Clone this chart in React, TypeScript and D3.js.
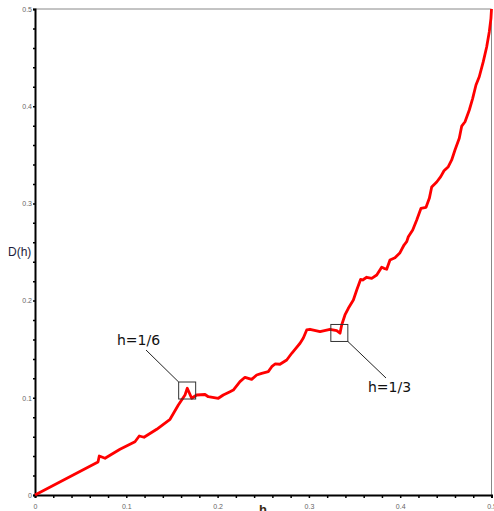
import { useEffect, useRef } from 'react';
import * as d3 from 'd3';

// curve D(h)
const hValues = [
    0, 0.069, 0.0704, 0.0767, 0.0931, 0.1095, 0.1142, 0.1194, 0.1333, 0.1479,
    0.157, 0.1643, 0.1668, 0.1716, 0.1771, 0.1862, 0.1898, 0.2008, 0.2062, 0.2136,
    0.2172, 0.2245, 0.23, 0.2373, 0.2428, 0.2483, 0.2555, 0.2593, 0.2629, 0.2683,
    0.2757, 0.2812, 0.2848, 0.2903, 0.2939, 0.2976, 0.3012, 0.3122, 0.3231, 0.3305,
    0.3341, 0.3359, 0.3395, 0.3432, 0.3487, 0.3524, 0.3567, 0.3589, 0.3633, 0.3688,
    0.3743, 0.3797, 0.3823, 0.3852, 0.3888, 0.3943, 0.3998, 0.4042, 0.4071, 0.4089,
    0.4137, 0.4181, 0.4228, 0.4283, 0.4319, 0.4345, 0.44, 0.4444, 0.448, 0.4527,
    0.4564, 0.46, 0.4647, 0.4674, 0.471, 0.4757, 0.4794, 0.483, 0.4866, 0.491,
    0.4947, 0.4976, 0.4994, 0.5
];
const dValues = [
    0, 0.034, 0.0401, 0.0378, 0.047, 0.0548, 0.0607, 0.0594, 0.0676, 0.0779,
    0.0926, 0.1029, 0.1098, 0.0995, 0.1029, 0.1034, 0.1011, 0.0995, 0.1029, 0.1063,
    0.108, 0.1166, 0.1211, 0.119, 0.1235, 0.1252, 0.1269, 0.132, 0.1348, 0.1345,
    0.1389, 0.1458, 0.1499, 0.1561, 0.1615, 0.1698, 0.1705, 0.168, 0.1705, 0.169,
    0.1664, 0.1749, 0.1852, 0.1921, 0.2006, 0.2109, 0.2219, 0.2212, 0.224, 0.2229,
    0.2263, 0.2343, 0.2332, 0.2322, 0.2418, 0.2441, 0.2493, 0.2572, 0.2606, 0.2657,
    0.2726, 0.2829, 0.295, 0.296, 0.3052, 0.3169, 0.322, 0.3275, 0.3336, 0.3378,
    0.3447, 0.3549, 0.367, 0.3796, 0.384, 0.3961, 0.4081, 0.4218, 0.4303, 0.4458,
    0.4609, 0.4767, 0.4904, 0.5
];

const majorTicks = [0, 0.1, 0.2, 0.3, 0.4, 0.5];
const minorTicks = [0.02, 0.04, 0.06, 0.08, 0.12, 0.14, 0.16, 0.18, 0.22, 0.24, 0.26, 0.28,
    0.32, 0.34, 0.36, 0.38, 0.42, 0.44, 0.46, 0.48];

const markLabels = ['h=1/6', 'h=1/3'];
const markH = [1 / 6, 1 / 3];
const markD = [0.1075, 0.1667];

export default function App() {
    const svgRef = useRef<SVGSVGElement>(null);
    const width = 494;
    const height = 511;

    useEffect(() => {
        if (!svgRef.current) return;
        const svg = d3.select(svgRef.current);
        svg.selectAll("*").remove();

        const x = d3.scaleLinear().domain([0, 0.5]).range([35, 491.5]);
        const y = d3.scaleLinear().domain([0, 0.5]).range([495, 9]);

        // frame: grey top / right
        svg.append("line")
            .attr("x1", x(0)).attr("x2", x(0.5))
            .attr("y1", y(0.5)).attr("y2", y(0.5))
            .attr("stroke", "#888").attr("stroke-width", 1);
        svg.append("line")
            .attr("x1", x(0.5)).attr("x2", x(0.5))
            .attr("y1", y(0)).attr("y2", y(0.5))
            .attr("stroke", "#888").attr("stroke-width", 1);

        const fmt = (d: d3.NumberValue) => (+d === 0 ? "0" : d3.format(".1f")(+d));

        // x axis
        const gx = svg.append("g").attr("transform", `translate(0,${y(0)})`);
        gx.call(d3.axisBottom(x).tickValues(majorTicks).tickFormat(fmt).tickSize(3).tickPadding(6));
        gx.append("g").call(d3.axisBottom(x).tickValues(minorTicks).tickFormat(() => "").tickSize(3))
            .select(".domain").remove();
        gx.selectAll(".domain").attr("stroke", "#000").attr("stroke-width", 2);
        gx.selectAll("line").attr("stroke", "#000").attr("stroke-width", 1.5);
        gx.selectAll("text")
            .style("font-size", "7px")
            .style("font-family", "Liberation Sans, Arial, sans-serif")
            .style("fill", "#666");

        // y axis
        const gy = svg.append("g").attr("transform", `translate(${x(0)},0)`);
        gy.call(d3.axisLeft(y).tickValues(majorTicks).tickFormat(fmt).tickSize(2).tickPadding(1));
        gy.append("g").call(d3.axisLeft(y).tickValues(minorTicks).tickFormat(() => "").tickSize(2))
            .select(".domain").remove();
        gy.selectAll(".domain").attr("stroke", "#000").attr("stroke-width", 2);
        gy.selectAll("line").attr("stroke", "#000").attr("stroke-width", 1.5);
        gy.selectAll("text")
            .style("font-size", "7px")
            .style("font-family", "Liberation Sans, Arial, sans-serif")
            .style("fill", "#666");

        // axis titles
        svg.append("text")
            .attr("x", 8).attr("y", 256)
            .style("font-family", "Liberation Sans, Arial, sans-serif")
            .style("font-size", "12px")
            .style("fill", "#1c1c3c")
            .text("D(h)");
        svg.append("text")
            .attr("x", 259).attr("y", 514)
            .style("font-family", "Liberation Sans, Arial, sans-serif")
            .style("font-size", "13px")
            .style("font-weight", "bold")
            .style("fill", "#3a2a10")
            .text("h");

        // curve
        const pts = hValues.map((h, i) => [h, dValues[i]] as [number, number]);
        const line = d3.line<[number, number]>()
            .x(d => x(d[0]))
            .y(d => y(d[1]));
        svg.append("path")
            .datum(pts)
            .attr("fill", "none")
            .attr("stroke", "#ff0000")
            .attr("stroke-width", 2.8)
            .attr("stroke-linejoin", "round")
            .attr("d", line);

        // annotations
        const box = 17;
        const labelPos = [[117, 345], [368, 392]];
        const leaderFrom = [[146, 350], [386, 378]];
        markLabels.forEach((lbl, i) => {
            const cx = x(markH[i]);
            const cy = y(markD[i]);
            svg.append("rect")
                .attr("x", cx - box / 2).attr("y", cy - box / 2)
                .attr("width", box).attr("height", box)
                .attr("fill", "none")
                .attr("stroke", "#333")
                .attr("stroke-width", 1);
            const corner = i === 0 ? [cx - box / 2, cy - box / 2] : [cx + box / 2, cy + box / 2];
            svg.append("line")
                .attr("x1", leaderFrom[i][0]).attr("y1", leaderFrom[i][1])
                .attr("x2", corner[0]).attr("y2", corner[1])
                .attr("stroke", "#222").attr("stroke-width", 1);
            svg.append("text")
                .attr("x", labelPos[i][0]).attr("y", labelPos[i][1])
                .style("font-family", "DejaVu Sans, sans-serif")
                .style("font-size", "14px")
                .style("fill", "#111")
                .text(lbl);
        });
    }, []);

    return (
        <svg
            ref={svgRef}
            width={width}
            height={height}
            style={{ position: 'absolute', left: 0, top: 0, background: '#fff' }}
        />
    );
}
